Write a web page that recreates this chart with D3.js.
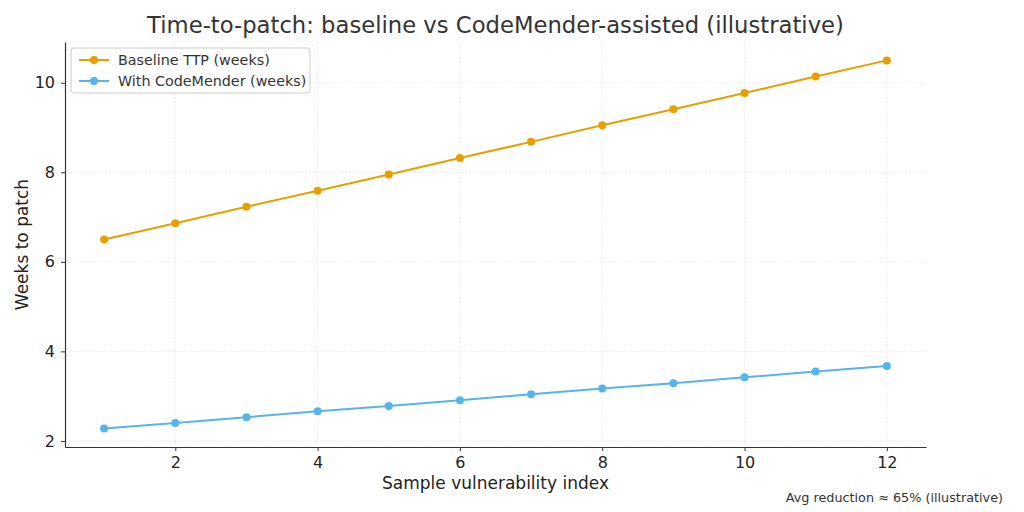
<!DOCTYPE html>
<html>
  <head>
    <meta charset="utf-8">
    <title>Time-to-patch</title>
    <style>
      body { margin: 0; background: white; }
      svg { display: block; font-family: "DejaVu Sans", sans-serif; }
    </style>
  </head>
  <body>
    <div id="chart"></div>
    <script src="https://d3js.org/d3.v7.min.js"></script>
    <script>
      var samples = [1, 2, 3, 4, 5, 6, 7, 8, 9, 10, 11, 12];
      var baseline = [6.5, 6.86, 7.23, 7.59, 7.95, 8.32, 8.68, 9.05, 9.41, 9.77, 10.14, 10.5];
      var assisted = [2.275, 2.40, 2.53, 2.66, 2.78, 2.91, 3.04, 3.17, 3.29, 3.42, 3.55, 3.675];
      var xTicks = [2, 4, 6, 8, 10, 12];
      var yTicks = [2, 4, 6, 8, 10];
      var seriesNames = ["Baseline TTP (weeks)", "With CodeMender (weeks)"];

      var width = 1024, height = 512;
      var m = {left: 65, right: 98, top: 42, bottom: 65};
      var colors = ["#E69F00", "#56B4E9"];
      var ink = "#333333";

      var svg = d3.select("#chart").append("svg")
        .attr("width", width)
        .attr("height", height);

      var x = d3.scaleLinear().domain([0.45, 12.55]).range([m.left, width - m.right]);
      var y = d3.scaleLinear().domain([1.864, 10.911]).range([height - m.bottom, m.top]);

      // grid
      var grid = svg.append("g").attr("stroke", "#dddddd").attr("stroke-width", 0.8)
        .attr("stroke-dasharray", "1,1.5");
      grid.selectAll(".gx").data(xTicks).enter().append("line")
        .attr("x1", d => x(d)).attr("x2", d => x(d))
        .attr("y1", m.top).attr("y2", height - m.bottom);
      grid.selectAll(".gy").data(yTicks).enter().append("line")
        .attr("y1", d => y(d)).attr("y2", d => y(d))
        .attr("x1", m.left).attr("x2", width - m.right);

      // axes
      var xAxis = svg.append("g")
        .attr("transform", "translate(0," + (height - m.bottom) + ")")
        .call(d3.axisBottom(x).tickValues(xTicks).tickSize(4).tickPadding(6).tickSizeOuter(0));
      var yAxis = svg.append("g")
        .attr("transform", "translate(" + m.left + ",0)")
        .call(d3.axisLeft(y).tickValues(yTicks).tickSize(4).tickPadding(6).tickSizeOuter(0));
      [xAxis, yAxis].forEach(function(a) {
        a.select(".domain").attr("stroke", ink).attr("stroke-width", 1.2);
        a.selectAll(".tick line").attr("stroke", ink);
        a.selectAll(".tick text").attr("fill", "#222").attr("font-size", 16)
          .attr("font-family", "DejaVu Sans, sans-serif");
      });

      // lines
      var sets = [baseline, assisted];
      sets.forEach(function(vals, i) {
        var line = d3.line().x((d, j) => x(samples[j])).y(d => y(d));
        svg.append("path").datum(vals)
          .attr("d", line).attr("fill", "none")
          .attr("stroke", colors[i]).attr("stroke-width", 2);
        svg.selectAll(".pt" + i).data(vals).enter().append("circle")
          .attr("cx", (d, j) => x(samples[j])).attr("cy", d => y(d))
          .attr("r", 4).attr("fill", colors[i]);
      });

      // title and labels
      svg.append("text").attr("x", (m.left + width - m.right) / 2).attr("y", 33)
        .attr("text-anchor", "middle").attr("font-size", 22.7).attr("fill", ink)
        .text("Time-to-patch: baseline vs CodeMender-assisted (illustrative)");
      svg.append("text").attr("x", (m.left + width - m.right) / 2).attr("y", 489)
        .attr("text-anchor", "middle").attr("font-size", 17).attr("fill", "#222")
        .text("Sample vulnerability index");
      svg.append("text")
        .attr("transform", "translate(28," + ((m.top + height - m.bottom) / 2) + ") rotate(-90)")
        .attr("text-anchor", "middle").attr("font-size", 17).attr("fill", "#222")
        .text("Weeks to patch");
      svg.append("text").attr("x", 1003).attr("y", 502)
        .attr("text-anchor", "end").attr("font-size", 12.8).attr("fill", ink)
        .text("Avg reduction \u2248 65% (illustrative)");

      // legend
      var lg = svg.append("g").attr("transform", "translate(71,48)");
      lg.append("rect").attr("width", 239).attr("height", 45).attr("rx", 3)
        .attr("fill", "white").attr("fill-opacity", 0.8)
        .attr("stroke", "#cccccc");
      seriesNames.forEach(function(name, i) {
        var ly = 12 + i * 21;
        lg.append("line").attr("x1", 8).attr("x2", 38).attr("y1", ly).attr("y2", ly)
          .attr("stroke", colors[i]).attr("stroke-width", 2);
        lg.append("circle").attr("cx", 23).attr("cy", ly).attr("r", 4).attr("fill", colors[i]);
        lg.append("text").attr("x", 47).attr("y", ly + 5).attr("font-size", 14.3)
          .attr("fill", ink).text(name);
      });
    </script>
  </body>
</html>
